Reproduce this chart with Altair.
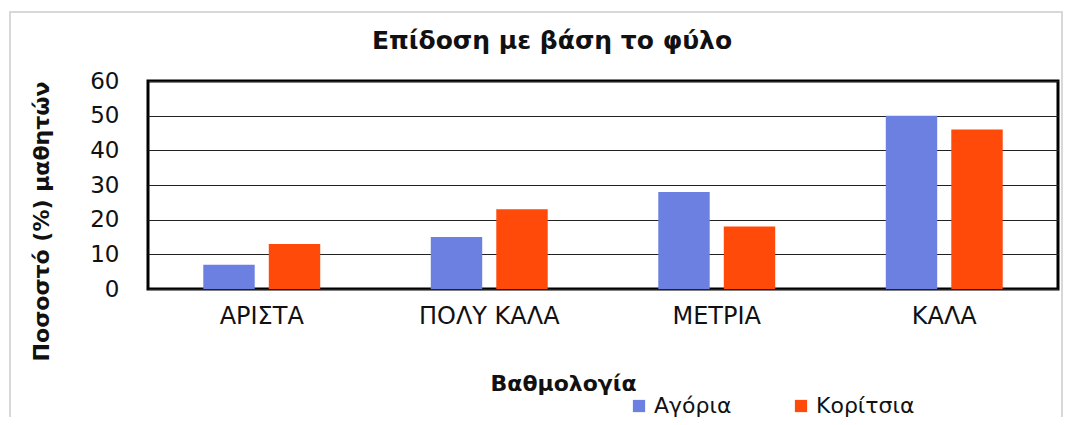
import altair as alt
import pandas as pd

categories = ["ΑΡΙΣΤΑ", "ΠΟΛΥ ΚΑΛΑ", "ΜΕΤΡΙΑ", "ΚΑΛΑ"]
series = ["Αγόρια", "Κορίτσια"]
boys = [7, 15, 28, 50]
girls = [13, 23, 18, 46]
colors = ["#6b80e0", "#ff4a0a"]
title_text = "Επίδοση με βάση το φύλο"

rows = []
for c, b, g in zip(categories, boys, girls):
    rows.append({"cat": c, "series": series[0], "value": b})
    rows.append({"cat": c, "series": series[1], "value": g})
df = pd.DataFrame(rows)

FONT = "DejaVu Sans"

bars = alt.Chart(df).mark_bar().encode(
    x=alt.X("cat:N", sort=categories,
            scale=alt.Scale(paddingInner=0.486, paddingOuter=0.243),
            axis=alt.Axis(title="Βαθμολογία", labelAngle=0, labelFontSize=24,
                          labelFont=FONT, labelColor="#111", labelPadding=15,
                          ticks=False, domain=False,
                          titleFont=FONT, titleFontSize=22, titleFontWeight="bold",
                          titleColor="#111", titleX=415, titleY=94,
                          titleAlign="center", titleBaseline="middle")),
    xOffset=alt.XOffset("series:N", sort=series,
                        scale=alt.Scale(paddingInner=0.215, paddingOuter=0.0)),
    y=alt.Y("value:Q", scale=alt.Scale(domain=[0, 60]),
            axis=alt.Axis(title="Ποσοστό (%)  μαθητών", values=[0, 10, 20, 30, 40, 50, 60],
                          labelFontSize=23, labelFont=FONT, labelColor="#111",
                          labelPadding=29, ticks=False, domain=False,
                          grid=True, gridColor="#222", gridWidth=1,
                          titleFont=FONT, titleFontSize=22, titleFontWeight="bold",
                          titleColor="#111", titleX=-107, titleY=140,
                          titleAlign="center", titleBaseline="middle")),
    color=alt.Color("series:N", sort=series,
                    scale=alt.Scale(domain=series, range=colors),
                    legend=alt.Legend(title=None, orient="none", legendX=480, legendY=314,
                                      direction="horizontal", symbolType="square",
                                      symbolSize=150, symbolStrokeWidth=0,
                                      labelFontSize=22, labelFont=FONT, labelColor="#111",
                                      columnPadding=58, labelOffset=4)),
)

frame = alt.Chart(pd.DataFrame({"a": [0]})).mark_rect(
    fill=None, stroke="#d8d8d8", strokeWidth=2, clip=False
).encode(
    x=alt.value(-138), x2=alt.value(914), y=alt.value(-69), y2=alt.value(360)
)

title = alt.Chart(pd.DataFrame({"t": [title_text]})).mark_text(
    font=FONT, fontSize=25, fontWeight="bold", color="#111",
    align="center", baseline="middle", clip=False
).encode(
    text="t:N", x=alt.value(404), y=alt.value(-40)
)

chart = alt.layer(frame, bars, title).properties(
    width=910, height=208,
    padding={"left": 140, "top": 73, "right": 7, "bottom": 128},
    autosize=alt.AutoSizeParams(type="none"),
    background="white",
).configure_view(stroke="#000", strokeWidth=3)

chart.save("out.html", embed_options={"renderer": "svg", "actions": False})
